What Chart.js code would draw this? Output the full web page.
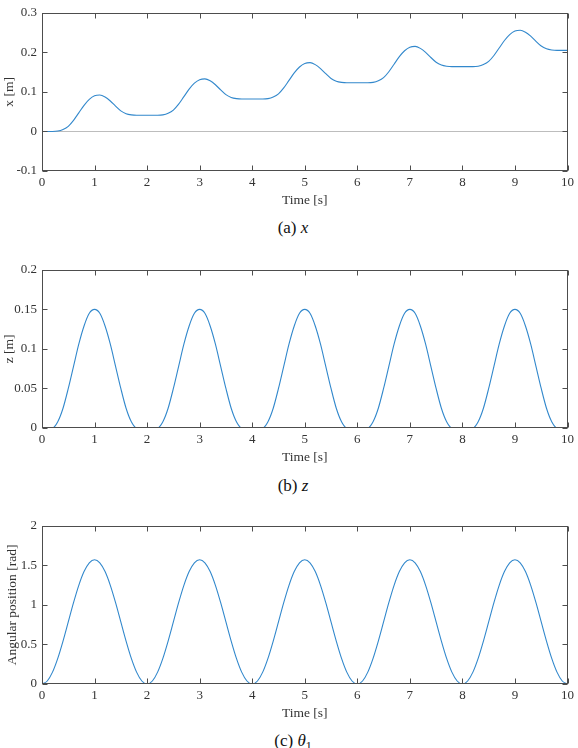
<!DOCTYPE html>
<html lang="en">
<head>
<meta charset="UTF-8">
<title>Foot trajectory</title>
<script src="https://cdn.jsdelivr.net/npm/chart.js"></script>
<style>
  body { margin: 0; background: #fff; }
  .page { position: relative; width: 578px; height: 748px; }
  .page canvas { position: absolute; left: 0; }
  .caption {
    position: absolute; left: 193px; width: 200px; text-align: center;
    font-family: 'Liberation Serif', 'DejaVu Serif', serif; font-size: 17px;
    line-height: 20px; color: #111;
  }
  .caption sub { font-size: 12px; line-height: 0; }
</style>
</head>
<body>
<div class="page">
  <canvas id="plotX" width="578" height="215" style="top:0px"></canvas>
  <div class="caption" style="top:218px">(a) <i>x</i></div>
  <canvas id="plotZ" width="578" height="215" style="top:257px"></canvas>
  <div class="caption" style="top:476px">(b) <i>z</i></div>
  <canvas id="plotTheta" width="578" height="215" style="top:513px"></canvas>
  <div class="caption" style="top:731px">(c) <i>θ</i><sub>1</sub></div>
</div>

<script>
  // sample times, 0..10 s every 0.1 s
  const time = Array.from({ length: 101 }, (_, i) => +(i * 0.1).toFixed(1));

  // horizontal position x [m]
  const xPos = [
    0, 0, 0,
    0.001, 0.005, 0.013, 0.028, 0.047, 0.066, 0.081, 0.090, 0.092, 0.087,
    0.077, 0.064, 0.052, 0.045, 0.042, 0.041, 0.041, 0.041, 0.041, 0.041,
    0.042, 0.046, 0.054, 0.069, 0.088, 0.107, 0.122, 0.131, 0.133, 0.128,
    0.118, 0.105, 0.093, 0.086, 0.083, 0.082, 0.082, 0.082, 0.082, 0.082,
    0.083, 0.087, 0.095, 0.110, 0.129, 0.148, 0.163, 0.172, 0.174, 0.169,
    0.159, 0.146, 0.134, 0.127, 0.124, 0.123, 0.123, 0.123, 0.123, 0.123,
    0.124, 0.128, 0.136, 0.151, 0.170, 0.189, 0.204, 0.213, 0.215, 0.210,
    0.200, 0.187, 0.175, 0.168, 0.165, 0.164, 0.164, 0.164, 0.164, 0.164,
    0.165, 0.169, 0.177, 0.192, 0.211, 0.230, 0.245, 0.254, 0.256, 0.251,
    0.241, 0.228, 0.216, 0.209, 0.206, 0.205, 0.205, 0.205
  ];

  // vertical position z [m]
  const zPos = [
    0, 0, 0.0002, 0.008, 0.025, 0.050, 0.078, 0.106, 0.129, 0.145, 0.150,
    0.145, 0.129, 0.106, 0.078, 0.050, 0.025, 0.008, 0.0002, 0, 0,
    0, 0.0002, 0.008, 0.025, 0.050, 0.078, 0.106, 0.129, 0.145, 0.150,
    0.145, 0.129, 0.106, 0.078, 0.050, 0.025, 0.008, 0.0002, 0, 0,
    0, 0.0002, 0.008, 0.025, 0.050, 0.078, 0.106, 0.129, 0.145, 0.150,
    0.145, 0.129, 0.106, 0.078, 0.050, 0.025, 0.008, 0.0002, 0, 0,
    0, 0.0002, 0.008, 0.025, 0.050, 0.078, 0.106, 0.129, 0.145, 0.150,
    0.145, 0.129, 0.106, 0.078, 0.050, 0.025, 0.008, 0.0002, 0, 0,
    0, 0.0002, 0.008, 0.025, 0.050, 0.078, 0.106, 0.129, 0.145, 0.150,
    0.145, 0.129, 0.106, 0.078, 0.050, 0.025, 0.008, 0.0002, 0, 0
  ];

  // joint angle theta1 [rad]
  const theta1 = [
    0, 0.038, 0.150, 0.324, 0.543, 0.785, 1.028, 1.247, 1.421, 1.532, 1.571,
    1.532, 1.421, 1.247, 1.028, 0.785, 0.543, 0.324, 0.150, 0.038, 0,
    0.038, 0.150, 0.324, 0.543, 0.785, 1.028, 1.247, 1.421, 1.532, 1.571,
    1.532, 1.421, 1.247, 1.028, 0.785, 0.543, 0.324, 0.150, 0.038, 0,
    0.038, 0.150, 0.324, 0.543, 0.785, 1.028, 1.247, 1.421, 1.532, 1.571,
    1.532, 1.421, 1.247, 1.028, 0.785, 0.543, 0.324, 0.150, 0.038, 0,
    0.038, 0.150, 0.324, 0.543, 0.785, 1.028, 1.247, 1.421, 1.532, 1.571,
    1.532, 1.421, 1.247, 1.028, 0.785, 0.543, 0.324, 0.150, 0.038, 0,
    0.038, 0.150, 0.324, 0.543, 0.785, 1.028, 1.247, 1.421, 1.532, 1.571,
    1.532, 1.421, 1.247, 1.028, 0.785, 0.543, 0.324, 0.150, 0.038, 0
  ];

  // zero reference line in plot (a)
  const zeroLineT = [0, 10];
  const zeroLineV = [0, 0];

  const xTicks = [0, 1, 2, 3, 4, 5, 6, 7, 8, 9, 10];
  const yTicksX = [-0.1, 0, 0.1, 0.2, 0.3];
  const yTicksZ = [0, 0.05, 0.1, 0.15, 0.2];
  const yTicksTheta = [0, 0.5, 1, 1.5, 2];

  const lineBlue = '#3288cc';
  const textColor = '#333333';
  const tickFont = { family: "'Liberation Serif', 'Times New Roman', serif", size: 13 };
  const labelFont = { family: "'Liberation Serif', 'Times New Roman', serif", size: 13.5 };

  const toPoints = (ts, vs) => ts.map((t, i) => ({ x: t, y: vs[i] }));

  // box around the axes with inward ticks on all four sides
  const matlabBox = {
    id: 'matlabBox',
    afterDraw(chart) {
      const { ctx, chartArea: a, scales } = chart;
      const l = Math.round(a.left) + 0.5, r = Math.round(a.right) - 0.5;
      const t = Math.round(a.top) + 0.5, b = Math.round(a.bottom) - 0.5;
      ctx.save();
      ctx.strokeStyle = '#4d4d4d';
      ctx.lineWidth = 1;
      ctx.strokeRect(l, t, r - l, b - t);
      ctx.beginPath();
      scales.x.ticks.forEach(tk => {
        const px = Math.round(scales.x.getPixelForValue(tk.value)) + 0.5;
        ctx.moveTo(px, b); ctx.lineTo(px, b - 5);
        ctx.moveTo(px, t); ctx.lineTo(px, t + 5);
      });
      scales.y.ticks.forEach(tk => {
        const py = Math.round(scales.y.getPixelForValue(tk.value)) + 0.5;
        ctx.moveTo(l, py); ctx.lineTo(l + 5, py);
        ctx.moveTo(r, py); ctx.lineTo(r - 5, py);
      });
      ctx.stroke();
      ctx.restore();
    }
  };

  function makePlot(id, datasets, yTicks, yTitle, yTitlePad) {
    return new Chart(document.getElementById(id), {
      type: 'line',
      data: { datasets: datasets },
      options: {
        responsive: false,
        animation: false,
        devicePixelRatio: 1,
        layout: { padding: { top: 10, right: 10, left: 0, bottom: 0 } },
        plugins: { legend: { display: false }, tooltip: { enabled: false } },
        elements: { point: { radius: 0 }, line: { borderWidth: 1.1, cubicInterpolationMode: 'monotone' } },
        scales: {
          x: {
            type: 'linear', min: 0, max: 10,
            grid: { display: false, drawTicks: false },
            border: { display: false },
            afterBuildTicks: s => { s.ticks = xTicks.map(v => ({ value: v })); },
            afterFit: s => { s.height = 44; },
            ticks: { padding: 4, color: textColor, font: tickFont, maxRotation: 0, autoSkip: false,
                     callback: v => String(v) },
            title: { display: true, text: 'Time [s]', color: textColor, font: labelFont,
                     padding: { top: 0, bottom: 6 } }
          },
          y: {
            type: 'linear', min: yTicks[0], max: yTicks[yTicks.length - 1],
            grid: { display: false, drawTicks: false },
            border: { display: false },
            afterBuildTicks: s => { s.ticks = yTicks.map(v => ({ value: v })); },
            afterFit: s => { s.width = 42; },
            ticks: { padding: 5, color: textColor, font: tickFont, callback: v => String(v) },
            title: { display: true, text: yTitle, color: textColor, font: labelFont,
                     padding: { top: yTitlePad, bottom: 0 } }
          }
        }
      },
      plugins: [matlabBox]
    });
  }

  makePlot('plotX', [
    { data: toPoints(time, xPos), borderColor: lineBlue },
    { data: toPoints(zeroLineT, zeroLineV), borderColor: '#bdbdbd' }
  ], yTicksX, 'x [m]', 1);

  makePlot('plotZ', [
    { data: toPoints(time, zPos), borderColor: lineBlue }
  ], yTicksZ, 'z [m]', 1);

  makePlot('plotTheta', [
    { data: toPoints(time, theta1), borderColor: lineBlue }
  ], yTicksTheta, 'Angular position [rad]', 4);
</script>
</body>
</html>
